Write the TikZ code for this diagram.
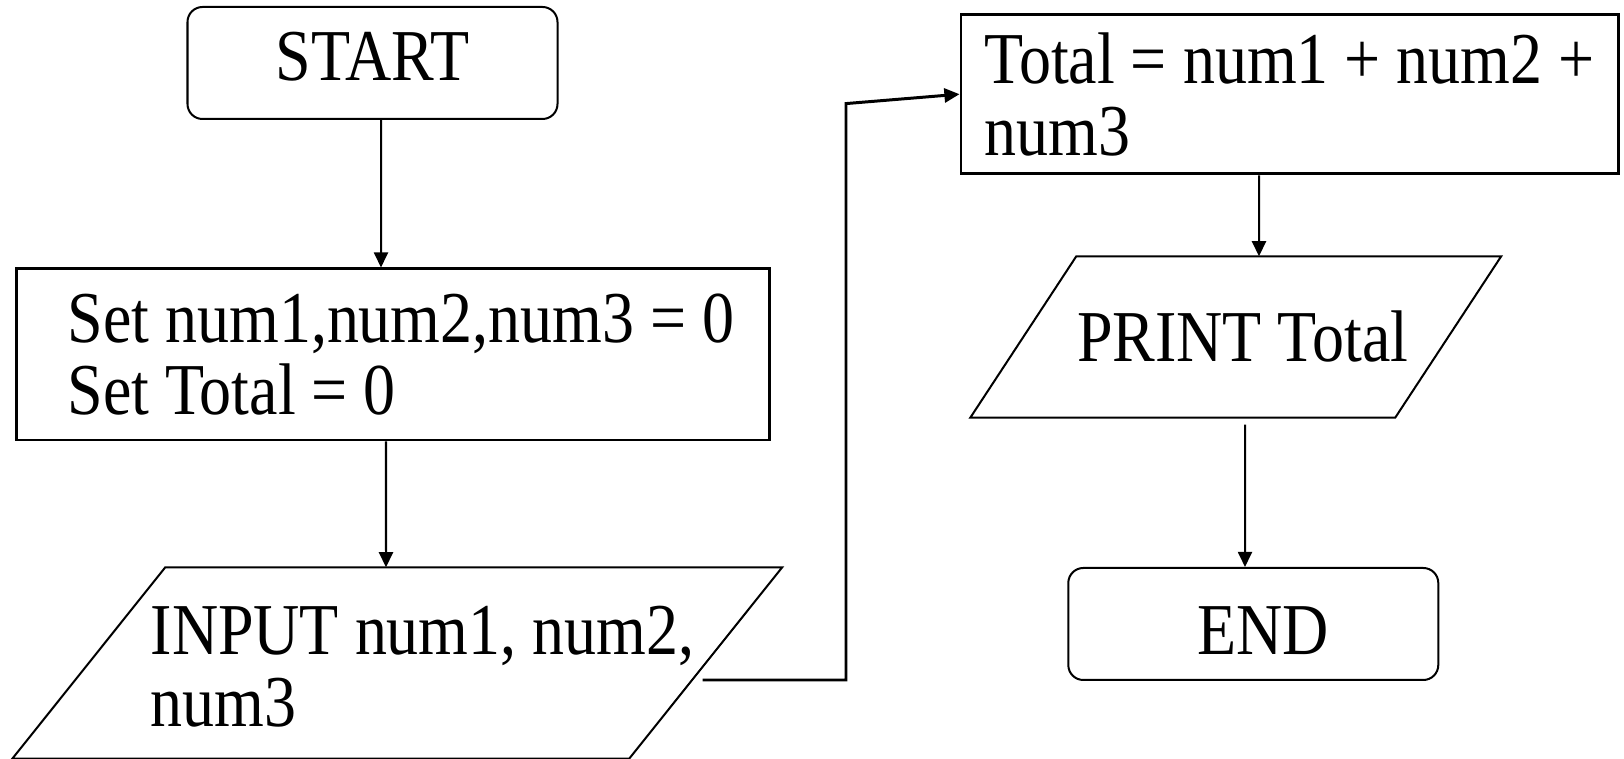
\documentclass[tikz,border=0pt]{standalone}
\usepackage{fontspec}
\setmainfont{Liberation Serif}[FakeStretch=0.875]
\usetikzlibrary{arrows.meta}
\tikzset{>={Triangle[length=4.3pt,width=4pt]}}
\tikzset{
  term/.style={draw, rounded corners=0.15cm, line width=0.57pt, minimum width=3.7cm, minimum height=1.12cm},
  procbox/.style={draw, line width=0.85pt, align=left},
  iobox/.style={inner sep=0pt},
  ioline/.style={line width=0.57pt, line join=miter},
  flow/.style={->, line width=0.57pt}
}

\begin{document}
\begin{tikzpicture}[font=\fontsize{20.8}{20.5}\selectfont]
\useasboundingbox (0,0) rectangle (16.24,7.59);
% left column
\node[term, text depth=0.14cm] (start) at (3.725,6.96) {START};
\node[procbox, minimum width=7.53cm, minimum height=1.71cm] (set) at (3.93,4.045) {\hspace*{0.16cm}Set num1,num2,num3 = 0\\\hspace*{0.16cm}Set Total = 0};
\node[iobox, minimum width=6.155cm, minimum height=1.90cm] (input) at (3.9725,0.96) {};
\node[anchor=north west, inner sep=0pt, align=left] (inputtxt) at (1.50,1.54) {INPUT num1, num2,\\num3};
% right column
\node[procbox, minimum width=6.57cm, minimum height=1.595cm] (total) at (12.895,6.648) {Total = num1 + num2 +\\num3};
\node[iobox, minimum width=4.235cm, minimum height=1.60cm] (print) at (12.3575,4.22) {\hspace*{0.14cm}PRINT Total};
\node[term, text height=0.62cm] (end) at (12.533,1.35) {\hspace*{0.2cm}END};

% slanted sides of the input/output boxes
\foreach \n/\d in {input/0.765, print/0.53}
  \draw[ioline] ([xshift=\d cm]\n.north west) -- ([xshift=\d cm]\n.north east)
    -- ([xshift=-\d cm]\n.south east) -- ([xshift=-\d cm]\n.south west) -- cycle;

\draw[flow] ([xshift=0.085cm]start.south) -- ([xshift=-0.12cm]set.north);
\draw[flow] ([xshift=-0.07cm]set.south) -- ([xshift=-0.1125cm]input.north);
\coordinate (bend) at (8.46,6.554);
\draw[flow, line width=0.85pt] ([xshift=-0.03cm,yshift=-0.17cm]input.east) -| (bend) -- (total.west);
\draw[flow] ([xshift=-0.305cm]total.south) -- ([xshift=0.2325cm]print.north);
\draw[flow] ([xshift=0.0925cm,yshift=-0.07cm]print.south) -- ([xshift=-0.083cm]end.north);
\end{tikzpicture}
\end{document}
